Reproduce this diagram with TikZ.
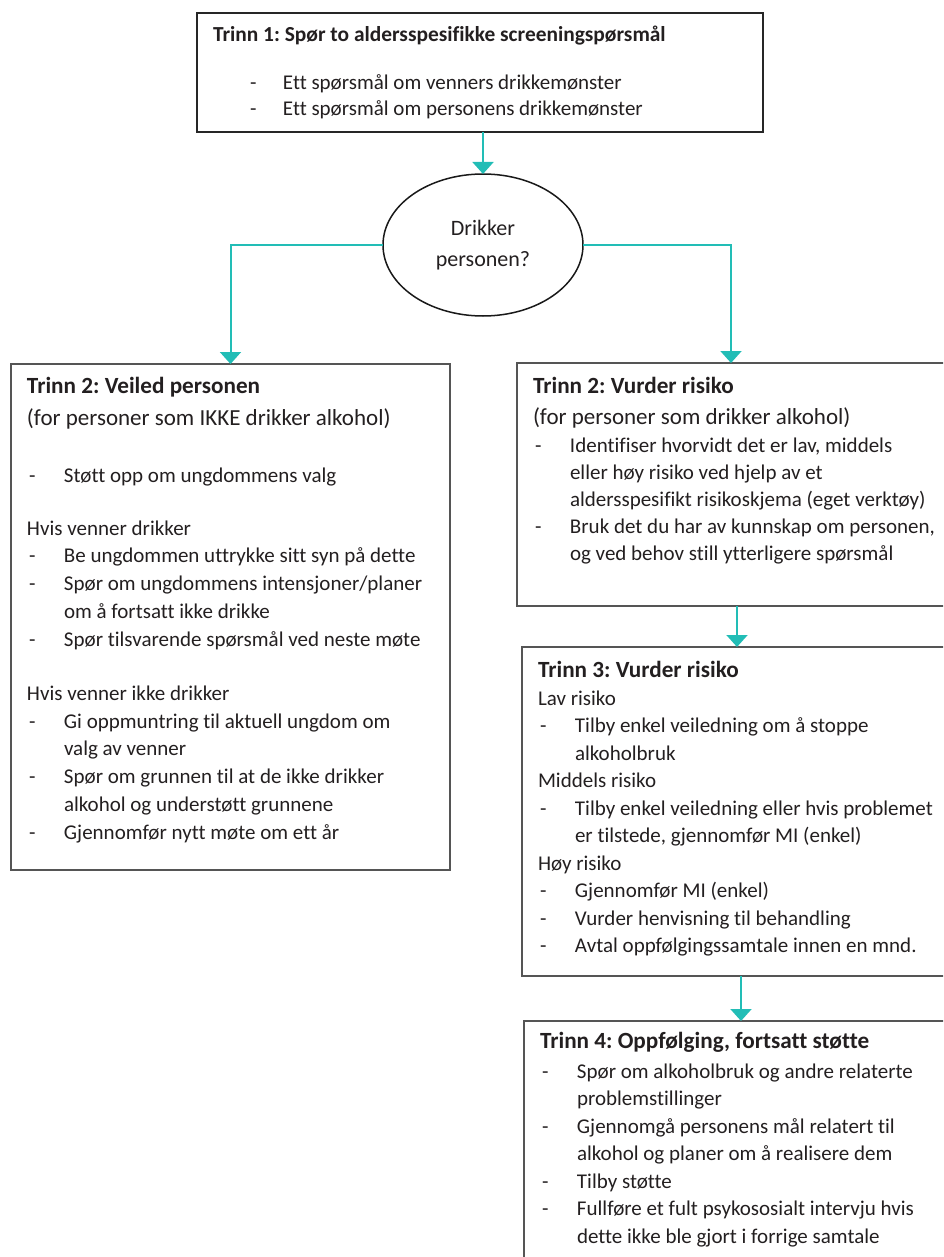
\documentclass[tikz,border=0pt]{standalone}
\usepackage{fontspec}
\setmainfont{Carlito}[Ligatures=NoCommon]
\usepackage{tikz}
\usetikzlibrary{positioning}
\usetikzlibrary{shapes,arrows.meta}
\definecolor{pilteal}{RGB}{34,189,182}
\definecolor{rammegra}{RGB}{85,85,85}
\definecolor{tekstgra}{RGB}{35,31,32}
\tikzstyle{panel} = [rectangle, draw=rammegra, line width=1.3pt, inner xsep=16pt,
                inner ysep=0pt, outer sep=0pt, anchor=north west, text=tekstgra]
\tikzstyle{line} = [draw=pilteal, line width=2pt, -{Triangle[width=21pt,length=12pt]}]
\tikzstyle{oval} = [draw=black!90, ellipse, line width=1.5pt, minimum width=200pt,
                minimum height=142pt, inner sep=0pt, outer sep=0pt, align=center,
                text=tekstgra, font=\fontsize{22}{31}\selectfont]
\newcommand{\innhold}[3]{\parbox[t][#2][t]{#1}{\fontsize{21}{27.8}\selectfont\frenchspacing\raggedright #3}}
\newcommand{\kulepkt}[1]{\makebox[37pt][l]{\hspace{2pt}-}\mbox{#1}}
\newcommand{\fortsett}[1]{\hspace*{37pt}\mbox{#1}}
\newcommand{\parentes}[1]{\mbox{\fontsize{23}{27.8}\selectfont #1}}
\newcommand{\tittel}[1]{\mbox{\fontsize{23.2}{27.8}\selectfont\bfseries #1}}

\begin{document}
\begin{tikzpicture}[x=1pt,y=1pt]
        \useasboundingbox (0,0) rectangle (943,-1257);
        \clip (0,0) rectangle (943,-1257);
        \node[panel, draw=black!85, line width=1.5pt](trinn1) at (197,-13){\innhold{534pt}{119pt}{%
            \rule{0pt}{29pt}\mbox{\fontsize{21.4}{27.8}\selectfont\bfseries Trinn 1: Spør to aldersspesifikke screeningspørsmål}\\[20.2pt]
            \hspace*{37pt}\makebox[33pt][l]{-}\mbox{Ett spørsmål om venners drikkemønster}\\[-1.8pt]
            \hspace*{37pt}\makebox[33pt][l]{-}\mbox{Ett spørsmål om personens drikkemønster}}};
        \node[oval, below=42pt of trinn1, xshift=3pt](drikker){Drikker\\personen?};
        \node[panel](veiled) at (11,-364){\innhold{407pt}{506pt}{%
            \rule{0pt}{29pt}\tittel{Trinn 2: Veiled personen}\\[4.2pt]
            \parentes{(for personer som IKKE drikker alkohol)}\\[29.2pt]
            \kulepkt{Støtt opp om ungdommens valg}\\[25.2pt]
            Hvis venner drikker\\
            \kulepkt{Be ungdommen uttrykke sitt syn på dette}\\
            \kulepkt{Spør om ungdommens intensjoner/planer}\\
            \fortsett{om å fortsatt ikke drikke}\\
            \kulepkt{Spør tilsvarende spørsmål ved neste møte}\\[26.2pt]
            Hvis venner ikke drikker\\
            \kulepkt{Gi oppmuntring til aktuell ungdom om}\\
            \fortsett{valg av venner}\\
            \kulepkt{Spør om grunnen til at de ikke drikker}\\
            \fortsett{alkohol og understøtt grunnene}\\
            \kulepkt{Gjennomfør nytt møte om ett år}}};
        \node[panel](vurder) at (517,-363){\innhold{396pt}{243pt}{%
            \rule{0pt}{30pt}\tittel{Trinn 2: Vurder risiko}\\[3.2pt]
            \parentes{(for personer som drikker alkohol)}\\[0.2pt]
            \kulepkt{Identifiser hvorvidt det er lav, middels}\\[-0.8pt]
            \fortsett{eller høy risiko ved hjelp av et}\\[-0.8pt]
            \fortsett{aldersspesifikt risikoskjema (eget verktøy)}\\[-0.8pt]
            \kulepkt{Bruk det du har av kunnskap om personen,}\\[-0.8pt]
            \fortsett{og ved behov still ytterligere spørsmål}}};
        \node[panel, below right=41pt and 5pt of vurder.south west](risiko){\innhold{398pt}{329pt}{%
            \rule{0pt}{30pt}\tittel{Trinn 3: Vurder risiko}\\[0.2pt]
            Lav risiko\\[-0.3pt]
            \kulepkt{Tilby enkel veiledning om å stoppe}\\[-0.3pt]
            \fortsett{alkoholbruk}\\[-0.3pt]
            Middels risiko\\[-0.3pt]
            \kulepkt{Tilby enkel veiledning eller hvis problemet}\\[-0.3pt]
            \fortsett{er tilstede, gjennomfør MI (enkel)}\\[-0.3pt]
            Høy risiko\\[-0.3pt]
            \kulepkt{Gjennomfør MI (enkel)}\\[-0.3pt]
            \kulepkt{Vurder henvisning til behandling}\\[-0.3pt]
            \kulepkt{Avtal oppfølgingssamtale innen en mnd.}}};
        \node[panel, below right=45pt and 2pt of risiko.south west](oppfolging){\innhold{402pt}{260pt}{%
            \rule{0pt}{27pt}\tittel{Trinn 4: Oppfølging, fortsatt støtte}\\[2.2pt]
            \kulepkt{Spør om alkoholbruk og andre relaterte}\\[-0.3pt]
            \fortsett{problemstillinger}\\[-0.3pt]
            \kulepkt{Gjennomgå personens mål relatert til}\\[-0.3pt]
            \fortsett{alkohol og planer om å realisere dem}\\[-0.3pt]
            \kulepkt{Tilby støtte}\\[-0.3pt]
            \kulepkt{Fullføre et fult psykososialt intervju hvis}\\[-0.3pt]
            \fortsett{dette ikke ble gjort i forrige samtale}}};
        \path[line] (drikker.north |- trinn1.south) -- (drikker.north);
        \path[line] (drikker.west) -| (veiled.north);
        \path[line] (drikker.east) -| (vurder.north);
        \path[line] (risiko.north |- vurder.south) -- (risiko.north);
        \path[line] (oppfolging.north |- risiko.south) -- (oppfolging.north);
    \end{tikzpicture}
\end{document}
